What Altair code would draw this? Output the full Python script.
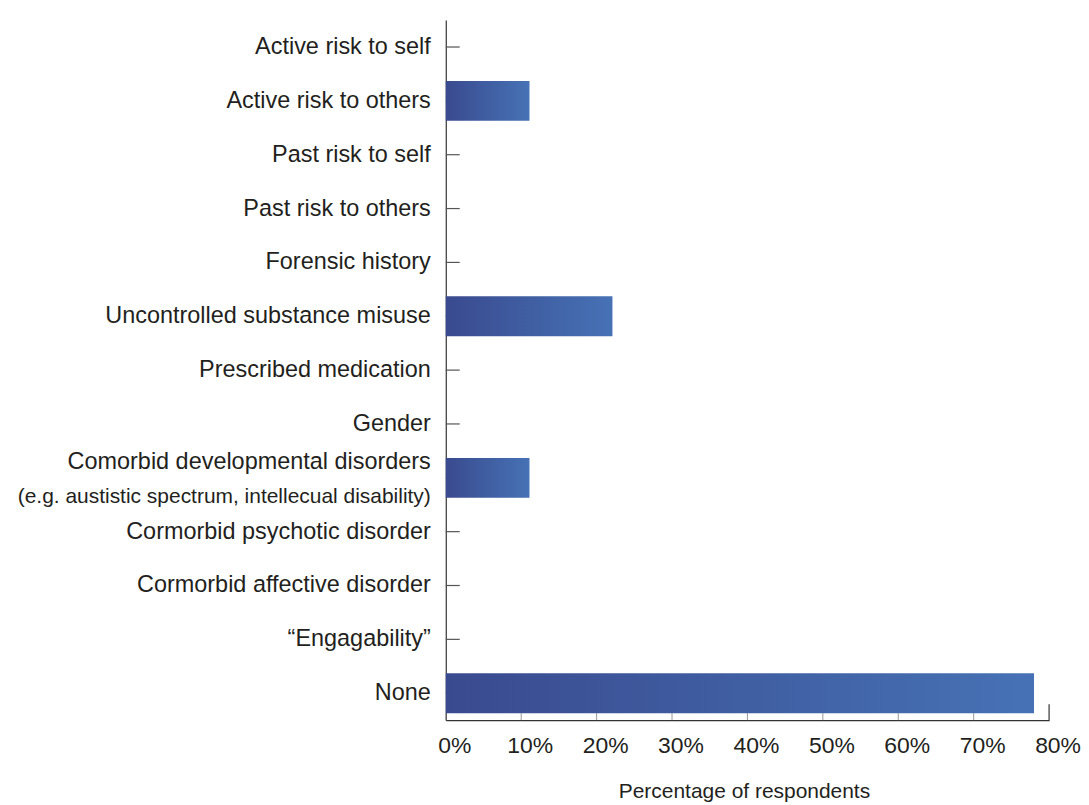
import altair as alt
import pandas as pd

categories = [
    "Active risk to self",
    "Active risk to others",
    "Past risk to self",
    "Past risk to others",
    "Forensic history",
    "Uncontrolled substance misuse",
    "Prescribed medication",
    "Gender",
    "Comorbid developmental disorders",
    "Cormorbid psychotic disorder",
    "Cormorbid affective disorder",
    "\u201cEngagability\u201d",
    "None",
]
values = [0, 11.1, 0, 0, 0, 22.1, 0, 0, 11.1, 0, 0, 0, 78.0]
sub_label = "(e.g. austistic spectrum, intellecual disability)"
two_line_category = "Comorbid developmental disorders"
x_ticks = [0, 10, 20, 30, 40, 50, 60, 70, 80]
x_title = "Percentage of respondents"

df = pd.DataFrame({"category": categories, "value": values})
tick_df = pd.DataFrame({"value": x_ticks})

FONT = "Liberation Sans"
TXT = "#231f20"

W, H = 605, 702

xscale = alt.Scale(domain=[0, 80], nice=False, zero=True)
yscale = alt.Scale(paddingInner=0.26, paddingOuter=0.13)

x_axis = alt.Axis(
    values=x_ticks, labels=False, ticks=False, grid=False, title=None,
    domainColor="#333333", domainWidth=1.2,
)
y_axis = alt.Axis(
    labels=False, ticks=False, title=None, grid=False,
    domainColor="#333333", domainWidth=1.2,
)

X = alt.X("value:Q", scale=xscale, axis=x_axis)
Y = alt.Y("category:N", sort=categories, scale=yscale, axis=y_axis)

gradient = alt.LinearGradient(
    gradient="linear",
    stops=[
        alt.GradientStop(offset=0, color="#3a4a8f"),
        alt.GradientStop(offset=1, color="#4672b5"),
    ],
    x1=0, x2=1, y1=0, y2=0,
)

cat_ticks = alt.Chart(df).mark_rule(color="#555555", strokeWidth=1.2).encode(
    x=alt.value(0), x2=alt.value(14), y=Y
)

val_ticks = alt.Chart(tick_df).transform_filter("datum.value < 80").mark_rule(
    color="#999999", strokeWidth=1
).encode(x=X, y=alt.value(H - 7), y2=alt.value(H))

end_tick = alt.Chart(tick_df).transform_filter("datum.value == 80").mark_rule(
    color="#333333", strokeWidth=1.2
).encode(x=X, y=alt.value(H - 16), y2=alt.value(H))

val_labels = alt.Chart(tick_df).transform_calculate(
    lab="datum.value + '%'"
).mark_text(
    align="center", baseline="alphabetic", font=FONT, fontSize=23, color=TXT, dx=9
).encode(x=X, y=alt.value(H + 33), text="lab:N")

title = alt.Chart(tick_df).transform_filter("datum.value == 0").mark_text(
    align="center", baseline="alphabetic", font=FONT, fontSize=21, color=TXT,
    text=x_title,
).encode(x=alt.value(W / 2 - 3), y=alt.value(H + 78))

bars = alt.Chart(df).transform_filter("datum.value > 0").mark_bar(
    color=gradient
).encode(x=X, y=Y)

labels = alt.Chart(df).transform_filter(
    alt.datum.category != two_line_category
).mark_text(
    align="right", baseline="middle", font=FONT, fontSize=23.5, color=TXT
).encode(x=alt.value(-15), y=Y, text="category:N")

label_main = alt.Chart(df).transform_filter(
    alt.datum.category == two_line_category
).mark_text(
    align="right", baseline="middle", font=FONT, fontSize=23.5, color=TXT, dy=-16
).encode(x=alt.value(-15), y=Y, text="category:N")

label_sub = alt.Chart(df).transform_filter(
    alt.datum.category == two_line_category
).mark_text(
    align="right", baseline="middle", font=FONT, fontSize=21, color=TXT, dy=19,
    text=sub_label,
).encode(x=alt.value(-15), y=Y)

chart = alt.layer(
    cat_ticks, val_ticks, end_tick, bars, val_labels, title, labels, label_main, label_sub
).properties(
    width=W,
    height=H,
    autosize=alt.AutoSizeParams(type="none"),
    padding={"left": 439, "top": 11, "right": 32, "bottom": 88},
    background="white",
).configure_view(stroke=None)

chart.save("out.html", embed_options={"renderer": "svg", "actions": False})
